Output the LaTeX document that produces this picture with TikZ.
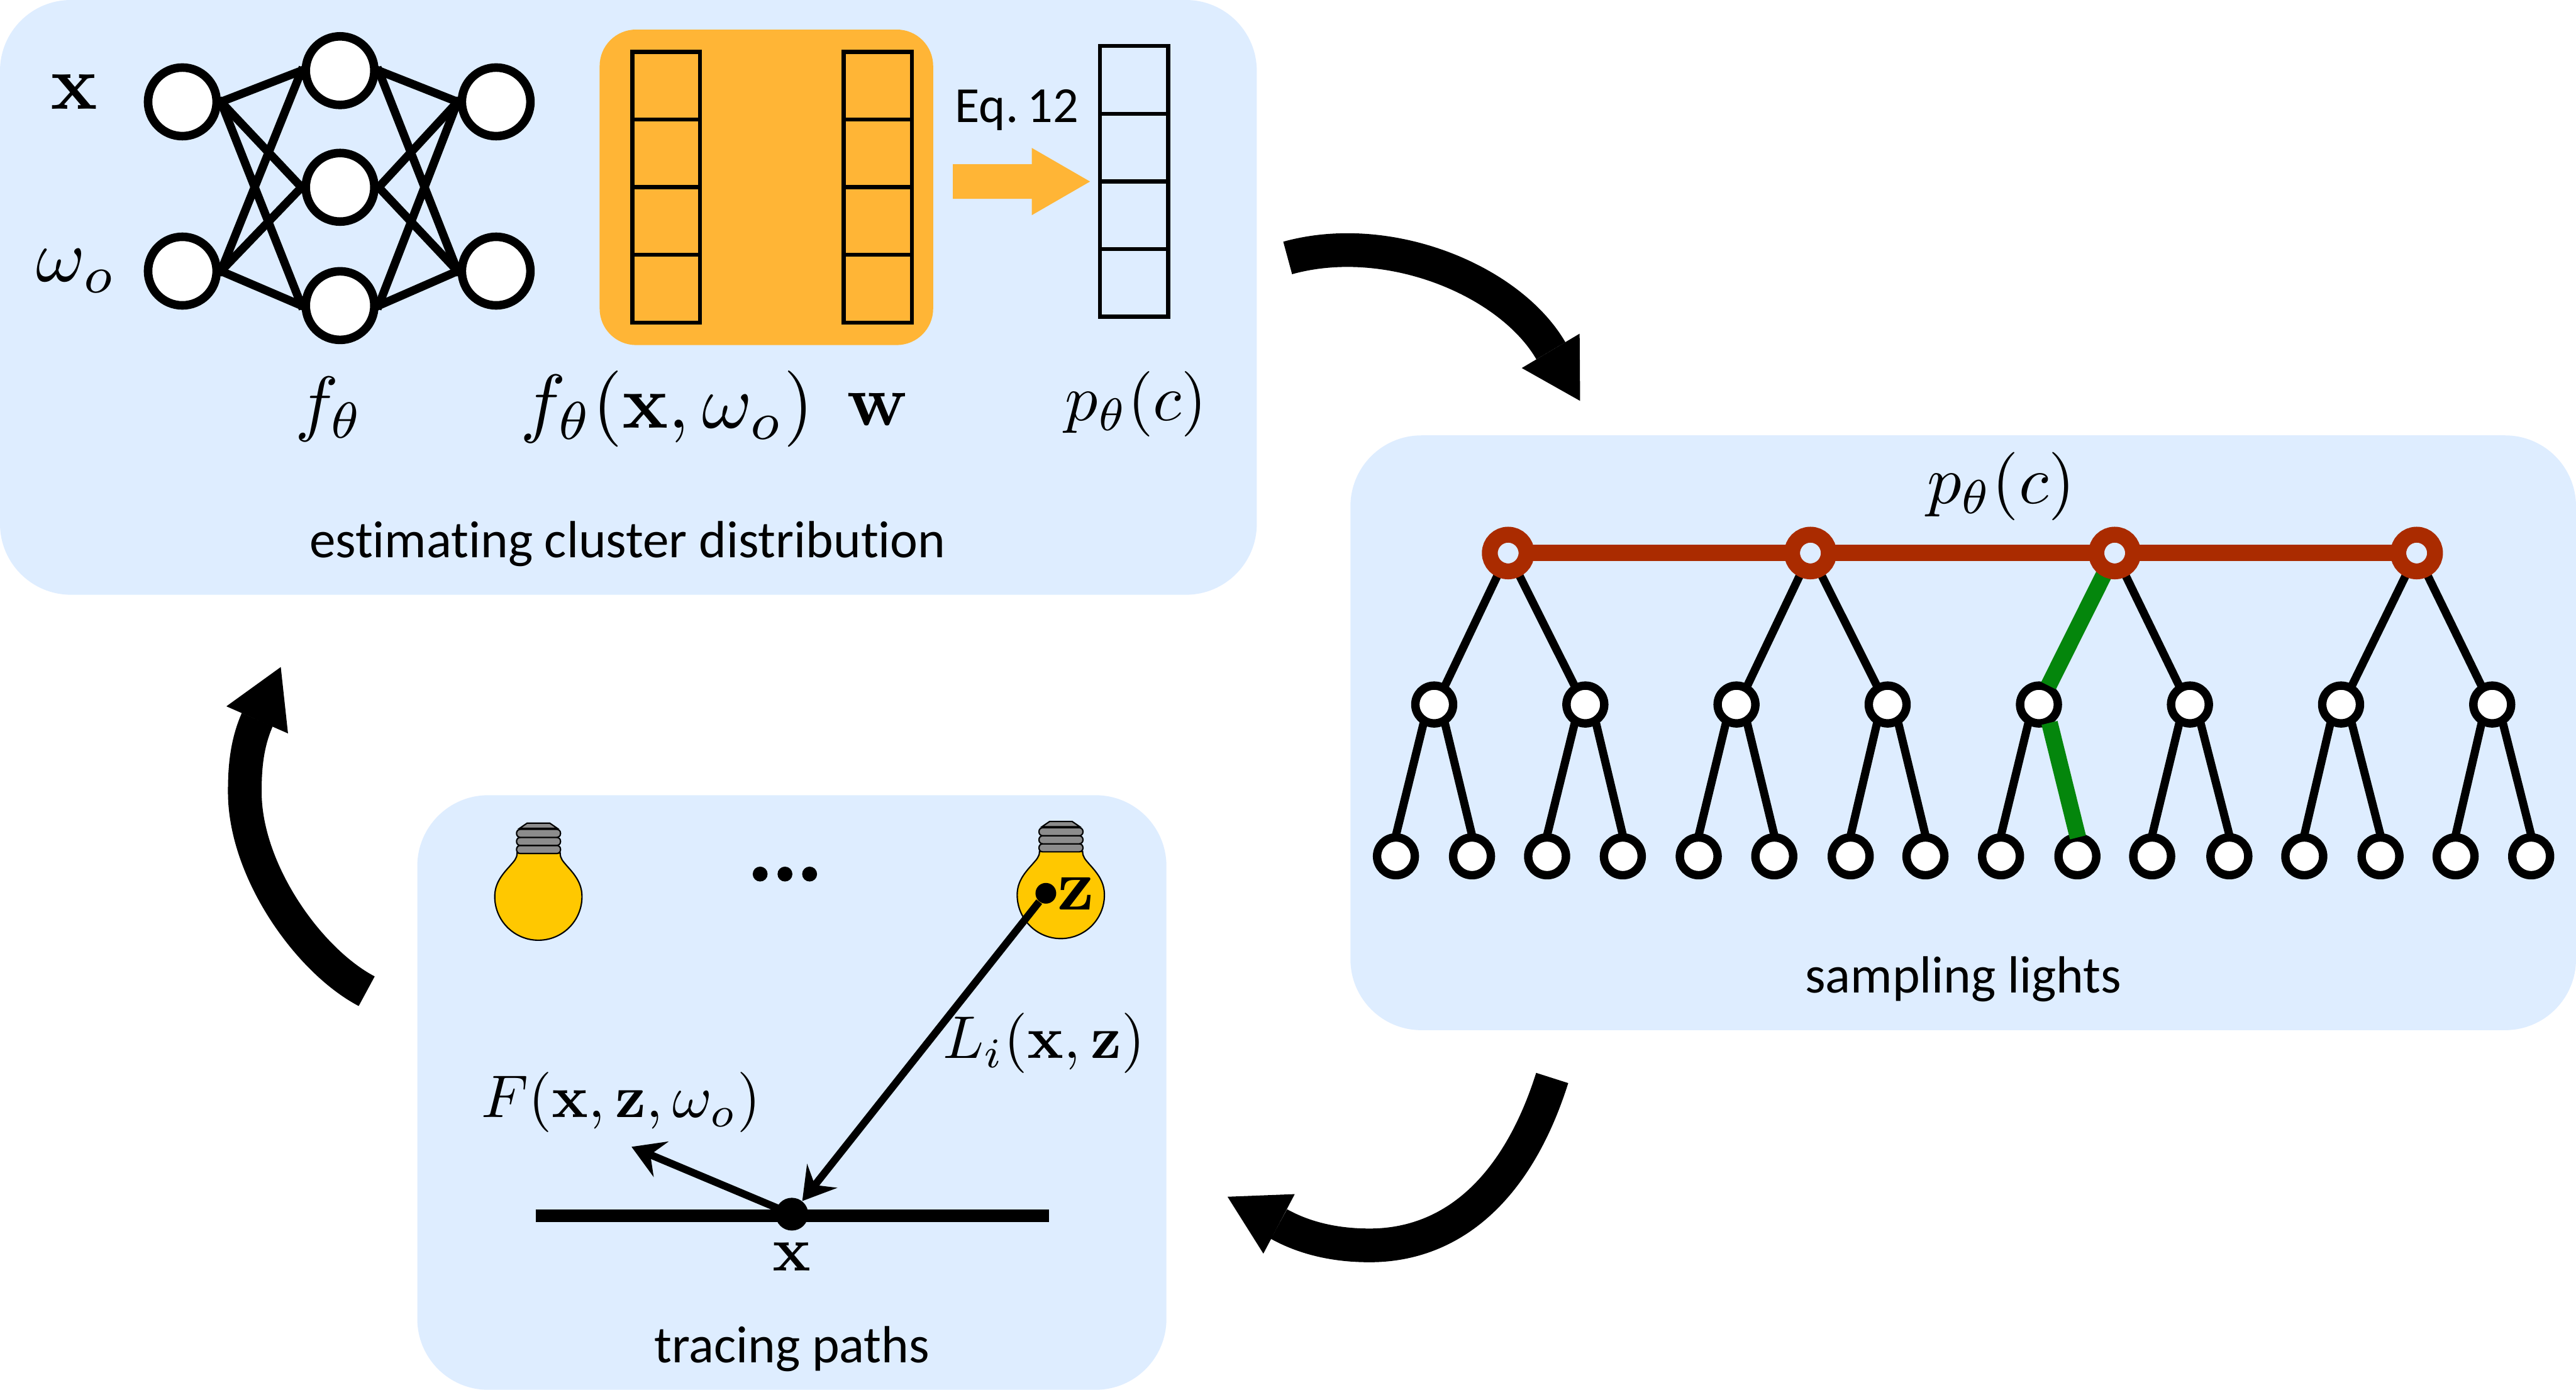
\documentclass[tikz,border=0pt]{standalone}
\usepackage[no-math]{fontspec}
\newfontfamily\labelfont[Ligatures=NoCommon]{Carlito}
\usetikzlibrary{arrows.meta}
\pgfdeclarelayer{bg}
\pgfdeclarelayer{edgelayer}
\pgfdeclarelayer{toplayer}
\pgfsetlayers{bg,edgelayer,main,toplayer}
\definecolor{panelblue}{HTML}{DEEDFF}
\definecolor{boxorange}{HTML}{FFB536}
\definecolor{rootred}{HTML}{AA2B00}
\definecolor{pathgreen}{HTML}{04860C}
\definecolor{bulbyellow}{HTML}{FFC800}
\definecolor{capgray}{HTML}{8C8C8C}
\tikzset{
  panel/.style={fill=panelblue,rounded corners=40pt},
  mathlab/.style={scale=4.1,inner sep=0pt},
  mathlabb/.style={scale=3.4,inner sep=0pt},
  textlab/.style={inner sep=0pt,font=\labelfont\fontsize{29.5}{34}\selectfont},
  nnnode/.style={circle,draw=black,fill=white,line width=4.82pt,minimum size=38.7pt,inner sep=0pt},
  nnedge/.style={line width=4.7pt,shorten <=-2pt,shorten >=-2pt},
  rootnode/.style={circle,draw=rootred,fill=panelblue,line width=8.95pt,minimum size=20.7pt,inner sep=0pt},
  treenode/.style={circle,draw=black,fill=white,line width=4.75pt,minimum size=21.3pt,inner sep=0pt,outer sep=1.3pt},
  treeedge/.style={line width=4.6pt},
  greenedge/.style={line width=9.3pt,draw=pathgreen},
  trunk/.style={line width=9.3pt,draw=rootred},
  cell/.style={line width=2.3pt},
  bigshaft/.style={line width=19pt},
  thinarrow/.style={line width=4.2pt,-{Stealth[length=18pt,width=21.5pt,inset=6.5pt]}},
  bulbline/.style={line width=0.76pt,draw=black},
  dot/.style={circle,fill=black,inner sep=0pt}
}
\newcommand{\bulbat}[2]{%
  \begin{scope}[shift={(#1,#2)},x=0.003333cm,y=-0.003333cm]
    \filldraw[bulbline,fill=bulbyellow] (-127,178) .. controls (-127,213) and (-147,228) .. (-172,258)
      .. controls (-222,313) and (-260,363) .. (-260,438)
      .. controls (-260,583) and (-142,698) .. (0,698)
      .. controls (143,698) and (260,583) .. (260,438)
      .. controls (260,363) and (223,313) .. (173,258)
      .. controls (148,228) and (130,213) .. (130,178) -- cycle;
    \filldraw[bulbline,fill=capgray] (-112,31) -- (-67,0) -- (68,0) -- (113,31) -- cycle;
    \filldraw[bulbline,fill=capgray,rounded corners=2.1pt] (-130,133) rectangle (132,181);
    \filldraw[bulbline,fill=capgray,rounded corners=2.1pt] (-130,85) rectangle (132,133);
    \filldraw[bulbline,fill=capgray,rounded corners=2.1pt] (-130,37) rectangle (132,85);
  \end{scope}}
\newcommand{\cellcolumn}[4]{% x0,x1,ytop,step
  \draw[cell] (#1,#3) rectangle (#2,#3+4*#4);
  \foreach \k in {1,2,3} \draw[cell] (#1,#3+\k*#4) -- (#2,#3+\k*#4);}
\begin{document}
\begin{tikzpicture}[x=0.03257cm,y=-0.03257cm]
\useasboundingbox (0,0) rectangle (1568,845.9);
\begin{pgfonlayer}{bg}
  \fill[white] (0,0) rectangle (1568,845.9);
  \fill[panel] (0,0) rectangle (765,362);
  \fill[panel] (822,265) rectangle (1568,627);
  \fill[panel] (254,484) rectangle (710,845.9);
  \fill[boxorange,rounded corners=20.5pt] (365,18) rectangle (568,210);
\end{pgfonlayer}

% neural network
\node[nnnode] (i1) at (111,62) {};
\node[nnnode] (i2) at (111,165) {};
\node[nnnode] (h1) at (207,43) {};
\node[nnnode] (h2) at (207,114) {};
\node[nnnode] (h3) at (207,186) {};
\node[nnnode] (o1) at (302,62) {};
\node[nnnode] (o2) at (302,165) {};
\begin{pgfonlayer}{edgelayer}
  \foreach \a in {i1,i2} \foreach \b in {h1,h2,h3} \draw[nnedge] (\a.east) -- (\b.west);
  \foreach \a in {o1,o2} \foreach \b in {h1,h2,h3} \draw[nnedge] (\b.east) -- (\a.west);
\end{pgfonlayer}
\node[mathlab,scale=1.07] (lx) at (45,56) {$\mathbf{x}$};
\node[mathlab,scale=1.03] (lw) at (46.5,165) {$\omega_o$};
\node[mathlab] (lf) at (200.5,249) {$f_\theta$};
\node[mathlab,scale=1.05] (lfx) at (406,249) {$f_\theta(\mathbf{x},\omega_o)$};
\node[mathlab] (lww) at (534,249) {$\mathbf{w}$};
\node[mathlab,scale=.9] (lp) at (691.5,246) {$p_\theta(c)$};

% vectors
\cellcolumn{385}{426}{31.5}{41.2}
\cellcolumn{513.5}{555}{31.5}{41.2}
\cellcolumn{669.5}{711}{28}{41.2}
\fill[boxorange] (580,100) -- (628,100) -- (628,90) -- (663.5,110.5) -- (628,131) -- (628,121) -- (580,121) -- cycle;
\node[textlab,font=\labelfont\fontsize{28.5}{32}\selectfont] (eq) at (619,67) {Eq.\hspace{.18em}12};
\node[textlab] (t1) at (382,331) {estimating cluster distribution};

% tree
\begin{pgfonlayer}{toplayer}
\node[rootnode] (r1) at (918,336.6) {};
\node[rootnode] (r2) at (1102,336.6) {};
\node[rootnode] (r3) at (1287.2,336.6) {};
\node[rootnode] (r4) at (1471,336.6) {};
\end{pgfonlayer}
\foreach \i/\xx in {1/873,2/965,3/1057,4/1149,5/1241.1,6/1333,7/1425,8/1517}
  \node[treenode] (m\i) at (\xx,428.8) {};
\foreach \i/\xx in {1/849.7,2/896,3/941.7,4/987.8,5/1034,6/1080,7/1126.5,8/1172,9/1218,10/1264.5,11/1310,12/1357,13/1402.6,14/1449,15/1494.7,16/1540.7}
  \node[treenode] (l\i) at (\xx,521.2) {};
\begin{pgfonlayer}{edgelayer}
  \foreach \r/\p/\q in {r1/m1/m2,r2/m3/m4,r3/m5/m6,r4/m7/m8} {
    \draw[treeedge] (\r.center) -- (\p.60);
    \draw[treeedge] (\r.center) -- (\q.120);
  }
  \foreach \m/\p/\q in {m1/l1/l2,m2/l3/l4,m3/l5/l6,m4/l7/l8,m5/l9/l10,m6/l11/l12,m7/l13/l14,m8/l15/l16} {
    \draw[treeedge] (\m.240) -- (\p.north);
    \draw[treeedge] (\m.300) -- (\q.north);
  }
  \draw[trunk] (r1.center) -- (r2.center) -- (r3.center) -- (r4.center);
\end{pgfonlayer}
\draw[greenedge] (r3.center) -- (m5.63);
\draw[greenedge,shorten >=-1.3pt] (m5.300) -- (l10.north);
\node[mathlab,scale=.94] (lpp) at (1218,296) {$p_\theta(c)$};
\node[textlab] (t2) at (1195,596) {sampling lights};

% lights
\bulbat{327.7}{501}
\bulbat{645.7}{500}
\node[dot,minimum size=8.4pt] (d1) at (462.7,532) {};
\node[dot,minimum size=8.4pt] (d2) at (477.8,532) {};
\node[dot,minimum size=8.4pt] (d3) at (492.8,532) {};
\coordinate (sl) at (326,740);
\coordinate (sr) at (638.6,740);
\draw[line width=7.2pt] (sl) -- (sr);
\node[dot,minimum size=18.5pt] (px) at (482,739) {};
\node[dot,minimum size=11.7pt] (pz) at (636.6,543.7) {};
\coordinate (fend) at (384.4,698);
\draw[thinarrow] (pz) -- (px);
\draw[thinarrow] (px.center) -- (fend);
\node[mathlabb,scale=1.2] (lz) at (655,544) {$\mathbf{z}$};
\node[mathlabb,scale=1.05] (lxx) at (482,765) {$\mathbf{x}$};
\node[mathlabb] (lli) at (635.5,635) {$L_i(\mathbf{x},\mathbf{z})$};
\node[mathlabb] (lff) at (378,671) {$F(\mathbf{x},\mathbf{z},\omega_o)$};
\node[textlab] (t3) at (482,821) {tracing paths};

% cycle arrows
\coordinate (a1s) at (783.8,157);
\coordinate (a1e) at (944,213.5);
\draw[bigshaft] (a1s) .. controls (845,140) and (919,170.5) .. (a1e);
\fill (961.5,203.1) -- (961.8,244) -- (926.3,224) -- cycle;
\coordinate (a2s) at (944.8,656.1);
\coordinate (a2m) at (833.6,758);
\coordinate (a2e) at (778.5,745);
\draw[bigshaft] (a2s) .. controls (924,722) and (885,758) .. (a2m) .. controls (810,758) and (792,752.5) .. (a2e);
\fill (747.2,728.4) -- (788.1,726.8) -- (769,763) -- cycle;
\coordinate (a3s) at (223.2,603.3);
\coordinate (a3m) at (149,482);
\coordinate (a3e) at (156.6,438);
\draw[bigshaft] (a3s) .. controls (187.8,584.7) and (149,530) .. (a3m) .. controls (149,468) and (150,453) .. (a3e);
\fill (170.9,406) -- (137.8,429.9) -- (175.3,446.4) -- cycle;
\end{tikzpicture}
\end{document}
